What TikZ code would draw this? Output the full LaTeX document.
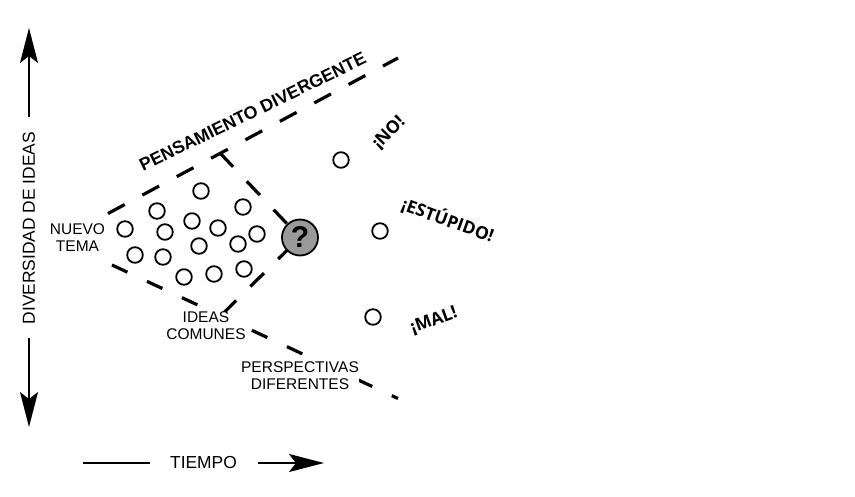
\documentclass[tikz,border=0pt]{standalone}
\usepackage{fontspec}
\setmainfont{Liberation Sans}
\newfontfamily\opensans{Open Sans}
\usetikzlibrary{arrows.meta}
\definecolor{qgray}{HTML}{9A9A9A}
\begin{document}
\begin{tikzpicture}[x=1pt,y=-1pt,
  lbl/.style={font=\fontsize{15.5}{17}\selectfont, align=center, fill=white, inner sep=0.5pt},
  axlbl/.style={font=\fontsize{17.4}{20}\selectfont, inner sep=0pt},
  excl/.style={font=\opensans\bfseries\fontsize{17.5}{20}\selectfont, inner sep=0pt},
  titlelbl/.style={font=\bfseries\fontsize{17.7}{20}\selectfont, inner sep=0pt},
  udash/.style={line width=3.2pt, dash pattern=on 19pt off 20pt},
  ldash/.style={line width=3.2pt, dash pattern=on 17pt off 21.6pt},
  idea/.style={circle, draw, line width=1.8pt, fill=white, minimum size=15.6pt, inner sep=0pt},
  qmark/.style={circle, draw, line width=1.8pt, fill=qgray, minimum size=36pt, inner sep=0pt, font=\bfseries\fontsize{30}{30}\selectfont},
  axarrow/.style={line width=1.8pt, -{Stealth[length=35pt,width=18pt,inset=7pt]}},
  axline/.style={line width=1.8pt}
]
\useasboundingbox (0,0) rectangle (855,496);

% key points of the funnel
\coordinate (U1) at (108,213.5);
\coordinate (U2) at (398,58);
\coordinate (L1) at (112,265);
\coordinate (L2) at (398,398.5);
\coordinate (T) at (220,153);
\coordinate (M) at (220.5,316);
\coordinate (Qc) at (300,237.5);

% dashed boundaries
\draw[udash] (U1) -- (U2);
\draw[ldash] (L1) -- (L2);
\draw[udash] (T) -- (Qc);
\draw[udash, dash phase=36pt] (M) -- (Qc);

% question mark
\node[qmark] (Q) at (Qc) {?};

% ideas in the cluster
\node[idea] (c1) at (125,229) {};
\node[idea] (c2) at (157,211) {};
\node[idea] (c3) at (201,191) {};
\node[idea] (c4) at (243,207) {};
\node[idea] (c5) at (165,232) {};
\node[idea] (c6) at (192,221) {};
\node[idea] (c7) at (218,228) {};
\node[idea] (c8) at (257,234) {};
\node[idea] (c9) at (199,246) {};
\node[idea] (c10) at (238,244) {};
\node[idea] (c11) at (135,255) {};
\node[idea] (c12) at (163,257) {};
\node[idea] (c13) at (184,277) {};
\node[idea] (c14) at (214,274) {};
\node[idea] (c15) at (244,269) {};

% outlying ideas
\node[idea] (o1) at (341,160) {};
\node[idea] (o2) at (380,231) {};
\node[idea] (o3) at (373,317) {};

% labels
\node[lbl] (nuevo) at (77.5,237.5) {NUEVO\\TEMA};
\node[lbl] (comunes) at (206,326) {IDEAS\\COMUNES};
\node[lbl] (persp) at (300,376) {PERSPECTIVAS\\DIFERENTES};
\node[titlelbl, rotate=26, anchor=base west] (pens) at (143,172) {PENSAMIENTO DIVERGENTE};
\node[excl, rotate=45] (no) at (389,133) {¡NO!};
\node[excl, rotate=-20] (est) at (448,220) {¡ESTÚPIDO!};
\node[excl, rotate=20] (mal) at (434,321) {¡MAL!};

% axes
\node[axlbl, rotate=90] (div) at (29,228) {DIVERSIDAD DE IDEAS};
\coordinate (VA) at (29,117);
\coordinate (VT) at (29,28);
\coordinate (VB) at (29,338);
\coordinate (VBT) at (29,427);
\draw[axarrow] (VA) -- (VT);
\draw[axarrow] (VB) -- (VBT);

\node[axlbl] (tiempo) at (203.5,463) {TIEMPO};
\coordinate (HL1) at (83,463);
\coordinate (HL2) at (150,463);
\coordinate (HR1) at (258,463);
\coordinate (HRT) at (324,463);
\draw[axline] (HL1) -- (HL2);
\draw[axarrow] (HR1) -- (HRT);
\end{tikzpicture}
\end{document}
